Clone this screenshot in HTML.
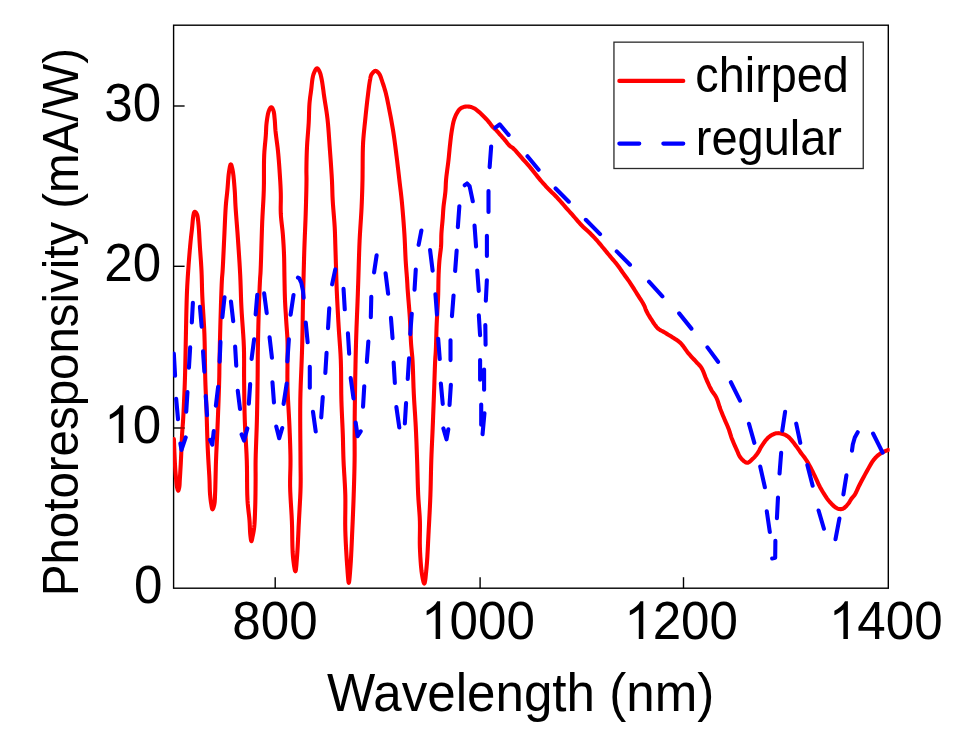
<!DOCTYPE html>
<html><head><meta charset="utf-8"><style>
html,body{margin:0;padding:0;background:#fff;width:965px;height:742px;overflow:hidden}
svg{display:block}
text{font-family:"Liberation Sans",sans-serif;fill:#000}
</style></head><body>
<svg width="965" height="742" viewBox="0 0 965 742">
<rect width="965" height="742" fill="#fff"/>
<g stroke="#000" stroke-width="1.4" fill="none">
<rect x="173.6" y="25.2" width="714.70" height="563.00"/>
<line x1="275.20" y1="588.2" x2="275.20" y2="577.2"/><line x1="480.10" y1="588.2" x2="480.10" y2="577.2"/><line x1="683.50" y1="588.2" x2="683.50" y2="577.2"/><line x1="173.6" y1="106.00" x2="184.6" y2="106.00"/><line x1="173.6" y1="266.30" x2="184.6" y2="266.30"/><line x1="173.6" y1="428.00" x2="184.6" y2="428.00"/>
</g>
<defs><clipPath id="c"><rect x="172.9" y="24.5" width="716.8" height="564.4"/></clipPath></defs>
<g clip-path="url(#c)" fill="none" stroke-linecap="round" stroke-linejoin="round" stroke-width="4.1">
<path d="M173.90 439.00L173.98 441.18L174.06 443.37L174.15 445.57L174.23 447.75L174.31 449.90L174.40 452.00L174.48 453.91L174.56 455.80L174.64 457.67L174.73 459.50L174.81 461.28L174.90 463.00L174.98 464.40L175.05 465.74L175.13 467.05L175.21 468.35L175.30 469.65L175.40 471.00L175.52 472.48L175.64 474.00L175.78 475.54L175.91 477.07L176.06 478.56L176.20 480.00L176.32 481.25L176.42 482.49L176.53 483.71L176.66 484.88L176.81 485.98L177.00 487.00L177.17 487.76L177.37 488.56L177.57 489.33L177.79 489.98L178.00 490.43L178.20 490.60L178.40 490.43L178.60 489.98L178.79 489.33L178.98 488.56L179.15 487.76L179.30 487.00L179.45 485.99L179.55 484.89L179.62 483.73L179.68 482.51L179.73 481.27L179.80 480.00L179.90 478.43L180.00 476.78L180.10 475.08L180.21 473.36L180.30 471.66L180.40 470.00L180.49 468.49L180.57 467.03L180.65 465.57L180.74 464.10L180.82 462.59L180.90 461.00L181.00 458.98L181.10 456.86L181.20 454.68L181.30 452.46L181.40 450.22L181.50 448.00L181.60 445.70L181.69 443.37L181.78 441.03L181.87 438.69L181.98 436.34L182.10 434.00L182.25 431.69L182.41 429.43L182.58 427.16L182.76 424.85L182.94 422.48L183.10 420.00L183.28 416.87L183.46 413.60L183.63 410.22L183.79 406.80L183.95 403.37L184.10 400.00L184.25 396.69L184.39 393.42L184.53 390.14L184.66 386.83L184.78 383.46L184.90 380.00L185.02 375.99L185.13 371.87L185.23 367.67L185.32 363.44L185.41 359.20L185.50 355.00L185.59 350.82L185.67 346.63L185.75 342.43L185.84 338.26L185.92 334.11L186.00 330.00L186.08 326.09L186.16 322.20L186.23 318.34L186.31 314.51L186.40 310.73L186.50 307.00L186.59 303.64L186.68 300.41L186.78 297.21L186.89 293.97L187.03 290.59L187.20 287.00L187.47 282.01L187.80 276.63L188.17 271.04L188.57 265.41L188.98 259.90L189.40 254.70L189.76 250.41L190.14 246.22L190.52 242.13L190.92 238.13L191.35 234.22L191.80 230.40L192.19 226.76L192.55 222.75L192.93 218.81L193.37 215.38L193.91 212.90L194.60 211.80L194.94 211.82L195.32 212.04L195.72 212.41L196.12 212.90L196.48 213.44L196.80 214.00L197.21 215.00L197.51 216.17L197.74 217.51L197.93 218.99L198.10 220.59L198.30 222.30L198.64 225.61L198.92 229.45L199.17 233.65L199.41 238.02L199.65 242.40L199.90 246.60L200.18 250.64L200.46 254.68L200.75 258.72L201.03 262.76L201.28 266.82L201.50 270.90L201.67 275.03L201.80 279.11L201.90 283.20L202.00 287.38L202.13 291.69L202.30 296.20L202.59 302.01L202.95 308.07L203.35 314.34L203.74 320.77L204.11 327.31L204.40 333.90L204.63 341.46L204.79 349.38L204.91 357.43L205.01 365.37L205.13 372.97L205.30 380.00L205.46 384.85L205.64 389.33L205.83 393.61L206.02 397.86L206.21 402.27L206.40 407.00L206.61 413.31L206.81 420.03L207.01 426.96L207.21 433.95L207.44 440.82L207.70 447.40L207.98 453.20L208.30 459.05L208.64 464.80L208.97 470.31L209.27 475.43L209.50 480.00L209.60 482.60L209.67 484.99L209.72 487.20L209.78 489.32L209.87 491.40L210.00 493.50L210.16 495.45L210.35 497.42L210.56 499.36L210.79 501.22L211.04 502.95L211.30 504.50L211.48 505.53L211.66 506.60L211.85 507.62L212.05 508.47L212.26 509.07L212.50 509.30L212.78 509.09L213.09 508.50L213.43 507.65L213.75 506.62L214.05 505.54L214.30 504.50L214.56 502.95L214.74 501.22L214.86 499.37L214.95 497.43L215.02 495.45L215.10 493.50L215.20 491.36L215.27 489.19L215.33 486.98L215.38 484.72L215.44 482.40L215.50 480.00L215.57 477.09L215.64 474.14L215.71 471.10L215.79 467.91L215.88 464.53L216.00 460.90L216.23 455.02L216.52 448.51L216.85 441.59L217.18 434.45L217.51 427.32L217.80 420.40L218.07 413.49L218.34 406.38L218.60 399.26L218.83 392.36L219.04 385.87L219.20 380.00L219.28 376.49L219.33 373.37L219.36 370.45L219.40 367.53L219.44 364.41L219.50 360.90L219.62 355.02L219.77 348.51L219.93 341.59L220.11 334.45L220.30 327.32L220.50 320.40L220.71 313.33L220.93 305.86L221.17 298.40L221.41 291.33L221.66 285.07L221.90 280.00L222.01 278.17L222.13 276.69L222.24 275.39L222.36 274.11L222.48 272.67L222.60 270.90L222.85 266.65L223.11 261.58L223.38 255.95L223.65 250.04L223.93 244.13L224.20 238.50L224.46 232.95L224.70 227.25L224.95 221.54L225.21 215.99L225.49 210.76L225.80 206.00L226.04 203.02L226.31 200.28L226.58 197.71L226.86 195.19L227.13 192.66L227.40 190.00L227.66 186.97L227.89 183.80L228.12 180.59L228.37 177.47L228.66 174.57L229.00 172.00L229.26 170.35L229.55 168.62L229.85 166.99L230.16 165.61L230.48 164.66L230.80 164.30L231.09 164.54L231.40 165.21L231.72 166.20L232.03 167.40L232.32 168.70L232.60 170.00L233.05 172.64L233.46 175.83L233.83 179.36L234.15 183.04L234.44 186.65L234.70 190.00L234.88 192.70L235.01 195.26L235.12 197.76L235.22 200.32L235.34 203.03L235.50 206.00L235.82 210.74L236.20 215.92L236.62 221.42L237.06 227.10L237.50 232.84L237.90 238.50L238.31 244.49L238.72 250.60L239.13 256.77L239.52 262.93L239.88 269.03L240.20 275.00L240.44 280.41L240.63 285.68L240.80 290.90L240.96 296.14L241.15 301.48L241.40 307.00L241.77 313.51L242.23 320.28L242.72 327.18L243.20 334.08L243.61 340.86L243.90 347.40L244.04 352.99L244.09 358.39L244.10 363.70L244.07 369.00L244.07 374.40L244.10 380.00L244.17 386.48L244.25 393.15L244.34 399.93L244.45 406.77L244.60 413.61L244.80 420.40L245.07 427.16L245.42 433.92L245.80 440.68L246.18 447.44L246.53 454.18L246.80 460.90L246.96 467.63L247.04 474.52L247.08 481.40L247.13 488.09L247.26 494.41L247.50 500.20L247.77 504.00L248.12 507.56L248.49 510.94L248.87 514.18L249.22 517.32L249.50 520.40L249.67 522.96L249.79 525.48L249.89 527.93L249.99 530.28L250.12 532.48L250.30 534.50L250.45 535.92L250.62 537.41L250.80 538.84L250.99 540.04L251.19 540.88L251.40 541.20L251.61 540.93L251.85 540.19L252.09 539.14L252.34 537.91L252.57 536.65L252.80 535.50L253.06 534.25L253.31 532.99L253.56 531.68L253.79 530.30L254.00 528.82L254.20 527.20L254.46 524.38L254.66 521.24L254.83 517.84L254.96 514.28L255.08 510.64L255.20 507.00L255.32 502.67L255.41 498.12L255.48 493.45L255.53 488.80L255.57 484.28L255.60 480.00L255.61 476.71L255.60 473.65L255.57 470.69L255.56 467.67L255.56 464.46L255.60 460.90L255.73 455.02L255.94 448.51L256.19 441.59L256.45 434.45L256.70 427.32L256.90 420.40L257.06 413.61L257.19 406.77L257.31 399.93L257.42 393.14L257.51 386.48L257.60 380.00L257.66 374.40L257.70 369.00L257.73 363.70L257.77 358.40L257.82 352.99L257.90 347.40L258.02 340.82L258.17 333.95L258.33 326.96L258.51 320.03L258.70 313.31L258.90 307.00L259.07 302.02L259.25 297.07L259.44 292.26L259.63 287.74L259.82 283.61L260.00 280.00L260.10 278.29L260.20 276.88L260.30 275.60L260.40 274.29L260.50 272.78L260.60 270.90L260.84 264.91L261.10 257.18L261.36 248.39L261.63 239.19L261.91 230.27L262.20 222.30L262.47 216.55L262.76 211.09L263.06 205.82L263.35 200.62L263.60 195.38L263.80 190.00L263.92 184.14L263.95 178.09L263.96 172.00L263.97 166.03L264.03 160.34L264.20 155.10L264.41 151.49L264.68 148.07L264.97 144.80L265.28 141.66L265.56 138.64L265.80 135.70L265.94 133.39L266.04 131.19L266.13 129.06L266.23 126.97L266.38 124.90L266.60 122.80L266.88 120.63L267.20 118.36L267.57 116.11L267.98 113.97L268.46 112.07L269.00 110.50L269.35 109.72L269.72 108.96L270.12 108.27L270.52 107.71L270.92 107.33L271.30 107.20L271.67 107.35L272.05 107.74L272.42 108.31L272.78 109.01L273.11 109.76L273.40 110.50L273.76 111.71L274.02 113.10L274.23 114.63L274.39 116.24L274.54 117.88L274.70 119.50L274.86 121.29L274.98 123.09L275.09 124.93L275.19 126.83L275.32 128.81L275.50 130.90L275.82 133.84L276.22 136.99L276.65 140.28L277.10 143.64L277.53 147.01L277.90 150.30L278.22 153.51L278.51 156.69L278.77 159.87L279.03 163.08L279.27 166.35L279.50 169.70L279.76 173.55L280.02 177.52L280.27 181.57L280.49 185.62L280.67 189.62L280.80 193.50L280.84 196.96L280.81 200.36L280.75 203.71L280.69 207.03L280.70 210.36L280.80 213.70L281.03 217.07L281.35 220.44L281.72 223.80L282.12 227.17L282.49 230.53L282.80 233.90L283.05 237.22L283.28 240.51L283.49 243.79L283.68 247.11L283.85 250.50L284.00 254.00L284.14 258.18L284.23 262.54L284.30 267.00L284.36 271.46L284.42 275.82L284.50 280.00L284.57 283.48L284.64 286.85L284.70 290.15L284.78 293.41L284.88 296.68L285.00 300.00L285.16 303.42L285.34 306.85L285.55 310.29L285.77 313.73L285.99 317.17L286.20 320.60L286.43 324.00L286.67 327.40L286.93 330.80L287.16 334.18L287.36 337.55L287.50 340.90L287.57 344.08L287.59 347.19L287.58 350.28L287.55 353.41L287.51 356.63L287.50 360.00L287.48 364.17L287.45 368.45L287.41 372.87L287.39 377.43L287.41 382.13L287.50 387.00L287.72 393.31L288.04 400.03L288.42 406.96L288.82 413.95L289.20 420.82L289.50 427.40L289.73 433.08L289.95 438.65L290.14 444.14L290.31 449.52L290.43 454.81L290.50 460.00L290.48 464.50L290.39 468.84L290.26 473.09L290.14 477.36L290.08 481.73L290.10 486.30L290.27 491.84L290.55 497.58L290.89 503.47L291.26 509.42L291.61 515.39L291.90 521.30L292.09 527.42L292.20 533.77L292.29 540.14L292.42 546.29L292.64 551.98L293.00 557.00L293.33 560.10L293.73 563.32L294.17 566.36L294.61 568.90L295.03 570.65L295.40 571.30L295.72 570.64L296.00 568.88L296.27 566.34L296.52 563.30L296.76 560.09L297.00 557.00L297.36 551.98L297.70 546.28L298.01 540.13L298.31 533.77L298.60 527.42L298.90 521.30L299.22 515.39L299.55 509.42L299.88 503.47L300.18 497.59L300.43 491.84L300.60 486.30L300.67 481.82L300.68 477.65L300.64 473.58L300.59 469.41L300.54 464.95L300.50 460.00L300.45 451.32L300.36 441.49L300.27 430.98L300.21 420.30L300.21 409.94L300.30 400.40L300.46 393.04L300.69 385.80L300.95 378.77L301.23 372.07L301.49 365.78L301.70 360.00L301.82 356.49L301.93 353.37L302.02 350.45L302.12 347.53L302.21 344.41L302.30 340.90L302.43 334.86L302.55 328.01L302.66 320.73L302.77 313.44L302.89 306.53L303.00 300.40L303.08 296.65L303.16 293.26L303.24 290.06L303.32 286.90L303.41 283.60L303.50 280.00L303.63 275.01L303.76 269.72L303.91 264.21L304.06 258.59L304.22 252.95L304.40 247.40L304.60 241.82L304.82 236.21L305.06 230.59L305.29 224.95L305.51 219.32L305.70 213.70L305.88 207.86L306.05 201.75L306.21 195.64L306.35 189.80L306.45 184.49L306.50 180.00L306.50 177.99L306.48 176.28L306.45 174.73L306.42 173.21L306.40 171.58L306.40 169.70L306.44 166.44L306.50 162.82L306.58 158.95L306.69 154.95L306.83 150.93L307.00 147.00L307.23 142.98L307.52 138.89L307.83 134.78L308.16 130.70L308.45 126.69L308.70 122.80L308.86 119.40L308.97 116.03L309.06 112.72L309.17 109.50L309.30 106.38L309.50 103.40L309.71 101.10L309.95 98.92L310.21 96.82L310.50 94.74L310.79 92.61L311.10 90.40L311.42 87.72L311.72 84.85L312.04 81.93L312.41 79.11L312.89 76.52L313.50 74.30L314.00 72.96L314.56 71.61L315.17 70.36L315.80 69.31L316.41 68.59L317.00 68.30L317.44 68.42L317.88 68.80L318.31 69.36L318.73 70.05L319.13 70.78L319.50 71.50L319.94 72.50L320.33 73.61L320.67 74.81L320.98 76.11L321.28 77.51L321.60 79.00L322.09 81.57L322.54 84.47L322.98 87.59L323.41 90.85L323.84 94.15L324.30 97.40L324.83 100.87L325.39 104.36L325.96 107.91L326.51 111.52L327.03 115.21L327.50 119.00L327.96 123.43L328.35 127.98L328.70 132.64L329.03 137.38L329.36 142.17L329.70 147.00L330.09 152.35L330.50 157.89L330.89 163.50L331.27 169.04L331.61 174.39L331.90 179.40L332.07 183.10L332.20 186.57L332.30 189.92L332.40 193.24L332.52 196.63L332.70 200.20L332.98 204.54L333.33 209.09L333.71 213.72L334.08 218.36L334.43 222.88L334.70 227.20L334.87 230.68L335.00 233.97L335.10 237.18L335.20 240.42L335.29 243.79L335.40 247.40L335.56 252.54L335.73 258.21L335.91 264.08L336.08 269.88L336.25 275.28L336.40 280.00L336.48 282.55L336.56 284.78L336.63 286.84L336.70 288.90L336.79 291.13L336.90 293.70L337.12 298.46L337.40 303.85L337.70 309.65L338.03 315.66L338.37 321.64L338.70 327.40L339.05 332.82L339.43 338.18L339.82 343.51L340.20 348.89L340.53 354.37L340.80 360.00L340.99 366.52L341.10 373.28L341.15 380.16L341.20 387.04L341.26 393.83L341.40 400.40L341.59 406.25L341.83 412.02L342.09 417.72L342.35 423.31L342.59 428.77L342.80 434.10L342.94 438.57L343.04 442.84L343.13 447.02L343.23 451.21L343.34 455.50L343.50 460.00L343.76 465.53L344.09 471.28L344.45 477.17L344.79 483.14L345.09 489.10L345.30 495.00L345.38 500.83L345.36 506.65L345.30 512.47L345.23 518.30L345.21 524.14L345.30 530.00L345.50 536.13L345.77 542.47L346.10 548.82L346.46 554.99L346.83 560.78L347.20 566.00L347.45 569.56L347.71 573.32L347.98 576.90L348.25 579.92L348.52 582.02L348.80 582.80L349.08 582.02L349.37 579.93L349.67 576.90L349.96 573.32L350.24 569.56L350.50 566.00L350.85 560.78L351.17 554.99L351.47 548.82L351.76 542.47L352.03 536.13L352.30 530.00L352.56 524.14L352.81 518.30L353.05 512.47L353.28 506.65L353.50 500.83L353.70 495.00L353.89 489.11L354.07 483.14L354.24 477.17L354.39 471.28L354.51 465.53L354.60 460.00L354.64 455.50L354.64 451.20L354.63 447.02L354.61 442.84L354.59 438.57L354.60 434.10L354.63 428.77L354.66 423.31L354.71 417.72L354.76 412.02L354.83 406.24L354.90 400.40L354.99 393.77L355.10 386.87L355.21 379.87L355.34 372.94L355.47 366.26L355.60 360.00L355.70 355.39L355.81 351.07L355.92 346.90L356.03 342.77L356.16 338.55L356.30 334.10L356.49 328.64L356.71 322.88L356.94 317.00L357.18 311.17L357.40 305.58L357.60 300.40L357.73 296.78L357.85 293.47L357.95 290.30L358.06 287.10L358.18 283.73L358.30 280.00L358.48 274.14L358.67 267.70L358.87 260.91L359.09 253.98L359.33 247.13L359.60 240.60L359.90 234.80L360.25 229.07L360.62 223.40L360.98 217.83L361.32 212.36L361.60 207.00L361.81 202.17L362.00 197.26L362.16 192.43L362.30 187.84L362.41 183.64L362.50 180.00L362.53 178.24L362.55 176.76L362.56 175.41L362.57 174.06L362.58 172.57L362.60 170.80L362.64 166.97L362.66 162.48L362.70 157.55L362.77 152.45L362.90 147.42L363.10 142.70L363.37 138.60L363.71 134.56L364.09 130.57L364.50 126.65L364.91 122.79L365.30 119.00L365.64 115.65L365.97 112.39L366.31 109.18L366.66 105.99L367.02 102.81L367.40 99.60L367.80 96.23L368.22 92.70L368.66 89.17L369.10 85.80L369.55 82.76L370.00 80.20L370.22 79.02L370.39 77.97L370.58 77.01L370.79 76.12L371.09 75.30L371.50 74.50L372.02 73.72L372.65 72.91L373.35 72.16L374.08 71.53L374.81 71.08L375.50 70.90L376.10 70.98L376.71 71.26L377.31 71.68L377.90 72.23L378.47 72.84L379.00 73.50L379.70 74.61L380.33 75.96L380.90 77.46L381.44 79.07L381.97 80.70L382.50 82.30L383.09 84.01L383.66 85.74L384.22 87.50L384.76 89.31L385.29 91.17L385.80 93.10L386.37 95.42L386.91 97.81L387.43 100.27L387.94 102.81L388.46 105.45L389.00 108.20L389.71 111.84L390.45 115.70L391.20 119.71L391.94 123.79L392.64 127.88L393.30 131.90L393.90 135.84L394.45 139.75L394.98 143.67L395.48 147.62L395.99 151.62L396.50 155.70L397.07 160.32L397.65 165.14L398.22 170.02L398.78 174.83L399.31 179.43L399.80 183.70L400.15 186.63L400.47 189.30L400.78 191.85L401.09 194.43L401.39 197.16L401.70 200.20L402.17 205.17L402.65 210.69L403.13 216.53L403.60 222.50L404.03 228.36L404.40 233.90L404.67 238.63L404.90 243.29L405.09 247.88L405.28 252.36L405.47 256.70L405.70 260.90L405.92 264.34L406.17 267.73L406.42 271.03L406.67 274.20L406.90 277.20L407.10 280.00L407.21 281.83L407.31 283.45L407.39 284.99L407.47 286.56L407.57 288.26L407.70 290.20L407.98 293.96L408.33 298.25L408.71 302.90L409.11 307.72L409.48 312.55L409.80 317.20L410.06 321.77L410.27 326.43L410.46 331.09L410.65 335.66L410.86 340.03L411.10 344.10L411.32 346.92L411.56 349.49L411.80 351.94L412.05 354.42L412.29 357.05L412.50 360.00L412.76 364.89L412.97 370.30L413.16 376.07L413.35 382.00L413.55 387.94L413.80 393.70L414.10 399.32L414.44 404.95L414.80 410.59L415.16 416.21L415.50 421.81L415.80 427.40L416.06 432.85L416.29 438.26L416.51 443.66L416.71 449.07L416.90 454.51L417.10 460.00L417.29 465.82L417.45 471.76L417.61 477.74L417.77 483.66L417.97 489.44L418.20 495.00L418.46 499.60L418.78 504.05L419.11 508.38L419.43 512.67L419.71 516.96L419.90 521.30L419.97 525.68L419.95 530.06L419.88 534.43L419.81 538.81L419.80 543.20L419.90 547.60L420.10 552.24L420.36 557.08L420.68 561.94L421.05 566.59L421.49 570.85L422.00 574.50L422.34 576.52L422.73 578.59L423.13 580.51L423.54 582.12L423.94 583.21L424.30 583.60L424.72 582.87L425.12 580.95L425.49 578.17L425.84 574.86L426.18 571.36L426.50 568.00L426.96 562.62L427.36 556.52L427.72 549.95L428.05 543.17L428.38 536.44L428.70 530.00L429.02 524.08L429.33 518.23L429.63 512.41L429.91 506.61L430.17 500.82L430.40 495.00L430.59 489.15L430.74 483.29L430.86 477.42L430.99 471.57L431.13 465.76L431.30 460.00L431.50 454.51L431.73 449.07L431.97 443.66L432.22 438.26L432.47 432.85L432.70 427.40L432.93 421.82L433.15 416.21L433.36 410.59L433.58 404.95L433.79 399.32L434.00 393.70L434.21 387.84L434.41 381.68L434.61 375.52L434.81 369.65L435.00 364.38L435.20 360.00L435.30 358.21L435.40 356.72L435.50 355.39L435.60 354.08L435.70 352.63L435.80 350.90L435.95 347.23L436.09 342.96L436.23 338.29L436.37 333.43L436.52 328.56L436.70 323.90L436.91 319.38L437.16 314.83L437.42 310.28L437.68 305.77L437.91 301.33L438.10 297.00L438.22 293.15L438.30 289.32L438.36 285.56L438.42 281.89L438.49 278.36L438.60 275.00L438.70 272.48L438.81 270.09L438.93 267.79L439.06 265.53L439.22 263.25L439.40 260.90L439.65 258.35L439.96 255.74L440.29 253.11L440.61 250.50L440.89 247.95L441.10 245.50L441.20 243.49L441.25 241.57L441.27 239.70L441.28 237.83L441.32 235.91L441.40 233.90L441.56 231.43L441.77 228.84L442.01 226.19L442.26 223.55L442.49 220.96L442.70 218.50L442.84 216.51L442.96 214.60L443.07 212.75L443.19 210.89L443.33 208.99L443.50 207.00L443.77 204.54L444.10 201.97L444.46 199.33L444.82 196.69L445.14 194.09L445.40 191.60L445.56 189.52L445.66 187.53L445.74 185.59L445.82 183.62L445.93 181.58L446.10 179.40L446.41 176.39L446.80 173.17L447.24 169.82L447.69 166.45L448.12 163.14L448.50 160.00L448.78 157.38L449.03 154.82L449.27 152.31L449.50 149.85L449.74 147.41L450.00 145.00L450.25 142.77L450.49 140.57L450.73 138.40L450.99 136.25L451.28 134.12L451.60 132.00L451.93 129.93L452.28 127.83L452.65 125.75L453.05 123.72L453.50 121.79L454.00 120.00L454.43 118.69L454.89 117.43L455.37 116.24L455.88 115.11L456.42 114.03L457.00 113.00L457.51 112.14L458.02 111.30L458.56 110.50L459.14 109.76L459.78 109.09L460.50 108.50L461.37 107.96L462.34 107.50L463.38 107.12L464.45 106.82L465.54 106.61L466.60 106.50L467.68 106.49L468.78 106.59L469.89 106.79L471.00 107.06L472.07 107.40L473.10 107.80L474.07 108.26L474.98 108.80L475.86 109.41L476.75 110.08L477.65 110.81L478.60 111.60L479.99 112.81L481.48 114.19L483.01 115.69L484.52 117.23L485.97 118.76L487.30 120.20L488.33 121.39L489.31 122.61L490.23 123.82L491.12 124.98L491.97 126.05L492.80 127.00L493.35 127.56L493.87 128.05L494.37 128.49L494.87 128.93L495.37 129.38L495.90 129.90L496.57 130.61L497.26 131.37L497.97 132.16L498.68 132.97L499.39 133.79L500.10 134.60L500.82 135.42L501.55 136.23L502.27 137.05L503.00 137.88L503.75 138.73L504.50 139.60L505.37 140.65L506.26 141.77L507.17 142.92L508.07 144.03L508.95 145.05L509.80 145.90L510.36 146.36L510.88 146.71L511.40 147.02L511.93 147.33L512.49 147.71L513.10 148.20L514.35 149.40L515.74 150.90L517.23 152.60L518.77 154.40L520.31 156.20L521.80 157.90L523.24 159.51L524.68 161.10L526.12 162.70L527.56 164.31L528.98 165.94L530.40 167.60L531.85 169.36L533.28 171.17L534.70 173.00L536.12 174.83L537.55 176.64L539.00 178.40L540.41 180.07L541.83 181.72L543.26 183.35L544.70 184.96L546.14 186.54L547.60 188.10L549.03 189.57L550.49 191.00L551.95 192.40L553.41 193.80L554.87 195.23L556.30 196.70L557.75 198.27L559.19 199.87L560.62 201.50L562.05 203.13L563.47 204.77L564.90 206.40L566.33 208.02L567.77 209.63L569.20 211.25L570.63 212.87L572.07 214.48L573.50 216.10L574.93 217.73L576.36 219.39L577.78 221.04L579.21 222.67L580.65 224.27L582.10 225.80L583.49 227.18L584.90 228.51L586.32 229.81L587.72 231.08L589.09 232.34L590.40 233.60L591.51 234.71L592.58 235.79L593.62 236.87L594.64 237.95L595.66 239.05L596.70 240.20L597.83 241.49L598.97 242.82L600.10 244.18L601.24 245.56L602.37 246.94L603.50 248.30L604.62 249.65L605.74 251.00L606.85 252.35L607.96 253.70L609.08 255.05L610.20 256.40L611.33 257.74L612.47 259.07L613.62 260.40L614.76 261.74L615.89 263.10L617.00 264.50L618.14 266.01L619.26 267.56L620.38 269.14L621.48 270.73L622.59 272.32L623.70 273.90L624.82 275.46L625.94 277.00L627.06 278.55L628.18 280.10L629.30 281.68L630.40 283.30L631.55 285.05L632.69 286.83L633.82 288.64L634.95 290.46L636.07 292.29L637.20 294.10L638.36 295.93L639.57 297.79L640.78 299.65L641.94 301.48L643.00 303.24L643.90 304.90L644.43 306.04L644.86 307.11L645.24 308.15L645.60 309.18L646.01 310.22L646.50 311.30L647.18 312.61L647.92 313.95L648.71 315.30L649.54 316.67L650.41 318.04L651.30 319.40L652.29 320.93L653.31 322.52L654.38 324.12L655.48 325.66L656.62 327.07L657.80 328.30L658.82 329.14L659.87 329.85L660.95 330.47L662.05 331.05L663.17 331.65L664.30 332.30L665.59 333.08L666.91 333.87L668.26 334.68L669.61 335.50L670.96 336.34L672.30 337.20L673.67 338.07L675.05 338.93L676.42 339.81L677.78 340.74L679.11 341.76L680.40 342.90L681.82 344.42L683.19 346.13L684.51 347.96L685.82 349.83L687.14 351.67L688.50 353.40L689.85 354.97L691.25 356.52L692.66 358.04L694.04 359.52L695.37 360.94L696.60 362.30L697.50 363.27L698.37 364.15L699.19 365.00L699.99 365.87L700.76 366.82L701.50 367.90L702.39 369.52L703.21 371.34L703.98 373.28L704.73 375.29L705.50 377.28L706.30 379.20L707.12 381.05L707.95 382.91L708.79 384.76L709.64 386.58L710.51 388.34L711.40 390.00L712.21 391.32L713.05 392.55L713.91 393.72L714.75 394.90L715.56 396.15L716.30 397.50L717.07 399.24L717.76 401.11L718.39 403.07L719.01 405.05L719.64 407.01L720.30 408.90L720.96 410.63L721.64 412.33L722.32 414.01L723.01 415.67L723.70 417.34L724.40 419.00L725.10 420.64L725.82 422.28L726.55 423.90L727.26 425.53L727.95 427.16L728.60 428.80L729.17 430.40L729.69 432.00L730.18 433.61L730.68 435.22L731.21 436.85L731.80 438.50L732.54 440.37L733.34 442.29L734.17 444.23L735.03 446.16L735.88 448.02L736.70 449.80L737.34 451.27L737.94 452.72L738.53 454.13L739.16 455.48L739.87 456.74L740.70 457.90L741.64 458.98L742.70 460.09L743.84 461.12L745.00 461.97L746.14 462.57L747.20 462.80L748.04 462.67L748.85 462.27L749.65 461.69L750.43 460.99L751.21 460.23L752.00 459.50L752.98 458.60L753.97 457.60L754.96 456.53L755.92 455.40L756.84 454.25L757.70 453.10L758.45 451.94L759.11 450.75L759.73 449.53L760.35 448.29L761.02 447.04L761.80 445.80L762.83 444.28L763.95 442.68L765.14 441.06L766.39 439.51L767.68 438.10L769.00 436.90L770.15 436.04L771.35 435.26L772.58 434.59L773.83 434.03L775.07 433.59L776.30 433.30L777.39 433.18L778.50 433.17L779.60 433.28L780.69 433.46L781.76 433.71L782.80 434.00L783.78 434.32L784.74 434.70L785.67 435.14L786.59 435.65L787.50 436.23L788.40 436.90L789.53 437.90L790.64 439.07L791.75 440.36L792.82 441.72L793.88 443.08L794.90 444.40L795.84 445.64L796.75 446.89L797.62 448.14L798.49 449.41L799.38 450.70L800.30 452.00L801.36 453.43L802.45 454.87L803.57 456.32L804.68 457.81L805.76 459.33L806.80 460.90L807.85 462.62L808.86 464.40L809.84 466.21L810.80 468.06L811.75 469.93L812.70 471.80L813.71 473.83L814.73 475.98L815.75 478.14L816.72 480.23L817.61 482.15L818.40 483.80L818.79 484.62L819.14 485.33L819.45 485.98L819.76 486.61L820.10 487.27L820.50 488.00L821.11 489.09L821.80 490.27L822.53 491.49L823.29 492.73L824.05 493.94L824.80 495.10L825.47 496.12L826.11 497.12L826.76 498.09L827.44 499.05L828.18 500.02L829.00 501.00L830.15 502.30L831.44 503.71L832.81 505.12L834.23 506.43L835.64 507.53L837.00 508.30L837.96 508.67L838.93 508.94L839.90 509.09L840.86 509.13L841.79 509.03L842.70 508.80L843.74 508.28L844.77 507.51L845.77 506.55L846.72 505.51L847.61 504.46L848.40 503.50L848.96 502.77L849.44 502.03L849.87 501.30L850.28 500.56L850.72 499.83L851.20 499.10L851.76 498.37L852.35 497.67L852.97 496.98L853.58 496.26L854.20 495.47L854.80 494.60L855.59 493.24L856.35 491.74L857.11 490.12L857.87 488.43L858.66 486.71L859.50 485.00L860.50 483.05L861.54 481.05L862.61 479.01L863.71 476.95L864.84 474.87L866.00 472.80L867.27 470.51L868.58 468.11L869.92 465.69L871.29 463.36L872.68 461.19L874.10 459.30L875.19 458.04L876.29 456.90L877.40 455.86L878.53 454.90L879.70 454.02L880.90 453.20L882.08 452.51L883.30 451.92L884.54 451.40L885.80 450.91L887.06 450.42L888.30 449.90" stroke="#ff0000"/>
<path d="M173.83 353.60L175.07 375.70M176.16 398.80L178.04 419.20M180.40 443.59L181.50 449.90L185.71 437.37M186.24 411.70L187.46 392.10M188.94 367.70L190.16 347.30M191.83 322.50L192.87 302.80M199.95 306.90L201.65 326.60M203.04 351.40L204.36 371.70M205.74 396.10L207.06 415.10M210.05 439.84L212.30 444.70L213.74 431.10M215.87 405.70L218.13 386.70M219.63 361.60L220.47 341.90M222.37 317.10L224.53 297.40M230.97 301.50L233.23 321.20M235.14 346.60L236.26 365.70M237.77 390.70L240.03 409.00M241.62 434.46L244.00 440.60L247.34 428.38M248.84 403.70L250.16 384.00M251.58 358.90L254.12 339.20M255.65 314.40L257.25 294.80M264.18 293.40L266.72 313.10M269.57 337.30L271.93 357.80M272.44 382.20L273.96 402.50M276.25 426.58L279.20 438.20L282.23 427.98M283.59 403.91L286.71 383.49M287.34 361.40L288.86 339.40M290.59 314.71L293.51 294.99M297.93 277.58L299.30 278.30L301.30 282.80L302.90 290.40L303.64 297.80M305.76 322.60L307.64 342.30M309.80 366.70L309.80 387.70M312.98 411.79L315.72 431.51M321.24 417.40L322.76 397.00M325.34 372.90L326.56 352.90M328.04 328.10L329.26 308.40M332.12 284.31L335.28 269.39M343.54 288.90L344.76 309.30M347.94 333.40L349.16 353.70M350.68 378.09L353.52 398.51M355.68 422.59L357.60 436.10L360.68 431.31M363.04 406.60L364.26 386.20M366.84 361.90L368.36 341.50M370.81 317.20L371.29 296.90M374.09 272.41L376.61 255.39M385.57 273.30L388.13 293.70M390.95 317.80L392.55 338.10M393.64 362.60L394.86 383.00M396.39 407.09L399.31 427.51M404.84 423.40L406.06 403.10M407.74 378.90L409.06 358.20M410.24 334.10L411.76 313.70M414.54 289.60L415.76 269.60M418.61 244.81L421.39 230.49M430.07 250.00L432.63 270.70M435.44 294.20L436.96 314.50M438.15 338.70L439.75 359.00M440.86 383.50L442.74 403.90M443.37 428.38L446.50 439.30L448.29 429.29M449.54 404.90L450.86 384.90M450.50 360.10L450.50 340.30M451.95 316.20L453.55 295.50M455.14 271.00L456.66 250.60M457.84 227.10L459.36 206.20M464.77 185.23L467.00 183.50L469.60 186.20L472.78 201.21M474.54 225.60L476.06 246.50M477.24 270.50L478.76 290.90M478.84 315.30L480.06 335.10M480.10 360.00L480.10 379.70M481.20 404.50L481.20 424.80M482.55 434.20L484.45 413.20M484.10 389.80L484.10 369.50M485.59 344.80L485.31 325.00M485.83 300.60L486.87 280.20M486.90 255.90L486.90 235.80M488.50 212.00L488.50 191.10M489.64 167.10L491.16 146.50M495.38 127.73L499.70 124.40L508.61 134.94M527.48 156.26L538.62 169.74M555.62 188.52L568.78 201.68M585.82 219.82L600.08 234.08M616.72 251.42L629.98 264.68M649.01 281.74L662.39 296.36M679.18 313.37L691.42 328.63M707.45 347.38L718.05 361.82M730.87 382.24L740.03 400.56M748.96 423.78L754.34 442.82M760.23 466.59L764.87 487.21M766.79 511.29L769.81 532.01M772.19 558.47L775.20 557.80L775.39 540.70M776.93 518.20L777.97 497.60M779.55 473.50L781.15 452.90M782.29 430.61L785.11 411.79M796.22 423.69L800.28 442.81M807.35 465.08L812.65 485.72M818.57 510.48L823.93 528.72M835.51 539.21L839.39 518.59M843.39 494.41L846.41 475.39M851.98 450.61L852.80 444.50L854.80 437.50L857.71 432.23M873.07 433.54L882.63 452.66" stroke="#0000ff"/>
</g>
<line x1="180.3" y1="428" x2="184.6" y2="428" stroke="#000" stroke-width="1.4" stroke-opacity="0.35"/>

<g transform="matrix(0.9650 0 0 1.0200 104.30 120.73)"><text x="0.000" y="0" font-size="53.0px">3</text><text x="29.476" y="0" font-size="53.0px">0</text></g><g transform="matrix(0.9650 0 0 1.0200 104.19 280.99)"><text x="0.000" y="0" font-size="53.0px">2</text><text x="29.476" y="0" font-size="53.0px">0</text></g><g transform="matrix(0.9650 0 0 1.0200 104.19 443.04)"><path transform="translate(0.000,0) scale(0.025879,-0.025128)" d="M763 0H583V1147Q518 1085 412.5 1023T223 930V1104Q374 1175 487 1276T647 1472H763Z"/><text x="29.476" y="0" font-size="53.0px">0</text></g><g transform="matrix(0.9650 0 0 1.0200 133.96 603.40)"><text x="0.000" y="0" font-size="53.0px">0</text></g><g transform="matrix(0.9650 0 0 1.0200 232.35 639.00)"><text x="0.000" y="0" font-size="53.0px">8</text><text x="29.476" y="0" font-size="53.0px">0</text><text x="58.952" y="0" font-size="53.0px">0</text></g><g transform="matrix(0.9650 0 0 1.0200 421.08 639.00)"><path transform="translate(0.000,0) scale(0.025879,-0.025128)" d="M763 0H583V1147Q518 1085 412.5 1023T223 930V1104Q374 1175 487 1276T647 1472H763Z"/><text x="29.476" y="0" font-size="53.0px">0</text><text x="58.952" y="0" font-size="53.0px">0</text><text x="88.428" y="0" font-size="53.0px">0</text></g><g transform="matrix(0.9650 0 0 1.0200 624.23 639.00)"><path transform="translate(0.000,0) scale(0.025879,-0.025128)" d="M763 0H583V1147Q518 1085 412.5 1023T223 930V1104Q374 1175 487 1276T647 1472H763Z"/><text x="29.476" y="0" font-size="53.0px">2</text><text x="58.952" y="0" font-size="53.0px">0</text><text x="88.428" y="0" font-size="53.0px">0</text></g><g transform="matrix(0.9650 0 0 1.0200 828.83 639.00)"><path transform="translate(0.000,0) scale(0.025879,-0.025128)" d="M763 0H583V1147Q518 1085 412.5 1023T223 930V1104Q374 1175 487 1276T647 1472H763Z"/><text x="29.476" y="0" font-size="53.0px">4</text><text x="58.952" y="0" font-size="53.0px">0</text><text x="88.428" y="0" font-size="53.0px">0</text></g>
<g transform="matrix(0.9648 0 0 1.0071 326.96 710.72)"><text x="0" y="0" font-size="53px">Wavelength (nm)</text></g><g transform="matrix(1.0129 0 0 0.9488 77.62 596.13)"><text transform="rotate(-90)" x="0" y="0" font-size="50px">Photoresponsivity (mA/W)</text></g>
<rect x="613.95" y="42.15" width="249.3" height="126.35" fill="#fff" stroke="#2a2a2a" stroke-width="1.3"/>
<g stroke-linecap="round" stroke-width="4.1">
<line x1="619.3" y1="80.9" x2="683.3" y2="80.9" stroke="#ff0000"/>
<line x1="619.3" y1="143.6" x2="683.3" y2="143.6" stroke="#0000ff" stroke-dasharray="20 24"/>
</g>
<g transform="matrix(0.9369 0 0 0.9849 695.29 91.60)"><text x="0" y="0" font-size="50px">chirped</text></g><g transform="matrix(0.9399 0 0 0.9935 695.75 154.82)"><text x="0" y="0" font-size="50px">regular</text></g>
</svg>
</body></html>
